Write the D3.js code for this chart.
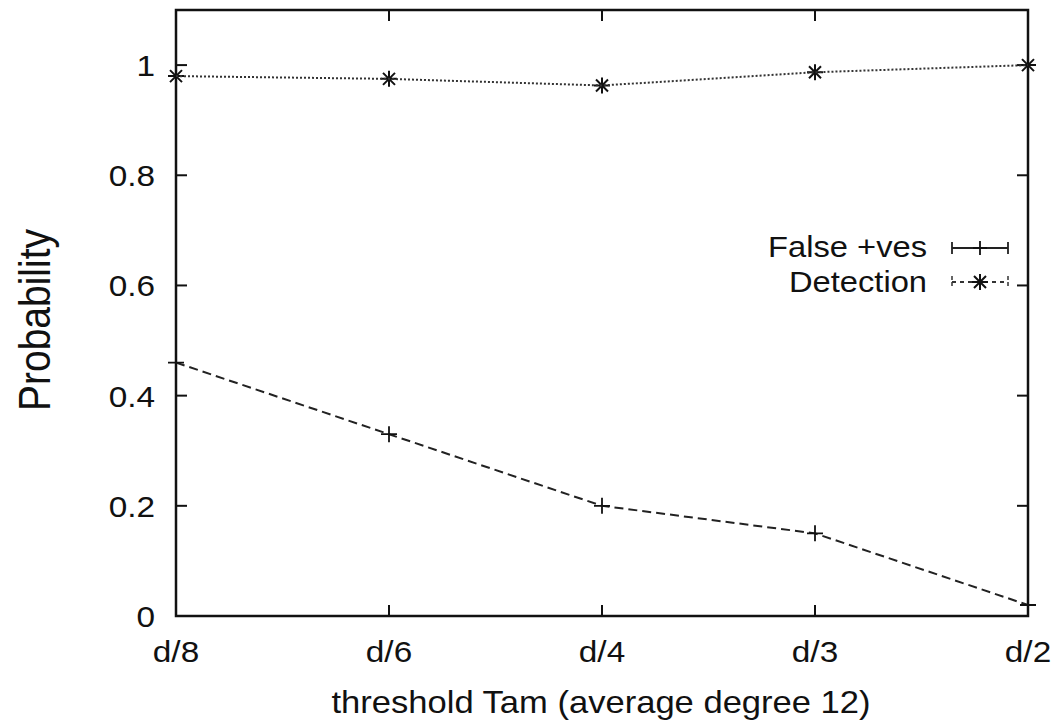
<!DOCTYPE html>
<html>
<head>
<meta charset="utf-8">
<script src="https://cdn.jsdelivr.net/npm/d3@7"></script>
<style>
  body { margin: 0; background: #fff; }
  text { font-family: "Liberation Sans", Arial, sans-serif; fill: #111; }
  .frame { fill: none; stroke: #111; stroke-width: 2.5; }
  .tick-line { stroke: #111; stroke-width: 2; }
</style>
</head>
<body>
<div id="chart"></div>
<script>
// threshold categories and the two measured series
var thresholds = ["d/8", "d/6", "d/4", "d/3", "d/2"];
var falsePositives = [0.46, 0.33, 0.20, 0.15, 0.02];
var detection = [0.98, 0.975, 0.963, 0.987, 1.0];
var yTicks = [0, 0.2, 0.4, 0.6, 0.8, 1];

var W = 1056, H = 721;
var plotL = 176, plotR = 1028, plotT = 10, plotB = 616;

var svg = d3.select("#chart").append("svg")
  .attr("width", W).attr("height", H);

var x = d3.scalePoint().domain(thresholds).range([plotL, plotR]);
var y = d3.scaleLinear().domain([0, 1.1]).range([plotB, plotT]);

// the source image is a bit wider than tall, so text is stretched sideways
function label(str, tx, ty, size, sx, anchor) {
  return svg.append("g")
    .attr("transform", "translate(" + tx + "," + ty + ") scale(" + sx + ",1)")
    .append("text").text(str)
    .attr("text-anchor", anchor)
    .style("font-size", size + "px");
}

// frame
svg.append("rect").attr("class", "frame")
  .attr("x", plotL).attr("y", plotT)
  .attr("width", plotR - plotL).attr("height", plotB - plotT);

// y ticks (gnuplot mirrors them on the right)
var tl = 11;
yTicks.forEach(function(v){
  var yy = y(v);
  svg.append("line").attr("class", "tick-line")
    .attr("x1", plotL).attr("x2", plotL + tl).attr("y1", yy).attr("y2", yy);
  svg.append("line").attr("class", "tick-line")
    .attr("x1", plotR).attr("x2", plotR - tl).attr("y1", yy).attr("y2", yy);
  label(d3.format("")(v), 155, yy + 11, 29, 1.15, "end");
});

// x ticks, bottom and top
thresholds.forEach(function(t){
  var xx = x(t);
  svg.append("line").attr("class", "tick-line")
    .attr("x1", xx).attr("x2", xx).attr("y1", plotB).attr("y2", plotB - tl);
  svg.append("line").attr("class", "tick-line")
    .attr("x1", xx).attr("x2", xx).attr("y1", plotT).attr("y2", plotT + tl);
  label(t, xx, 662, 29, 1.15, "middle");
});

// axis titles
label("threshold Tam (average degree 12)", 601, 713, 32, 1.08, "middle");

svg.append("text").text("Probability")
  .attr("transform", "translate(50,320) rotate(-90) scale(1,1.12)")
  .attr("text-anchor", "middle").style("font-size", "39px");

var line = d3.line()
  .x(function(d, i){ return x(thresholds[i]); })
  .y(function(d){ return y(d); });

// false positives: dashed with plus markers
svg.append("path").datum(falsePositives)
  .attr("d", line)
  .attr("fill", "none").attr("stroke", "#222").attr("stroke-width", 2)
  .attr("stroke-dasharray", "9,5");

function plus(g, cx, cy, s) {
  g.append("path")
    .attr("d", "M" + (cx - s) + "," + cy + "H" + (cx + s) + "M" + cx + "," + (cy - s) + "V" + (cy + s))
    .attr("stroke", "#111").attr("stroke-width", 1.8).attr("fill", "none");
}
function star(g, cx, cy, s) {
  var d = s * 0.75;
  g.append("path")
    .attr("d", "M" + (cx - s) + "," + cy + "H" + (cx + s) +
               "M" + cx + "," + (cy - s) + "V" + (cy + s) +
               "M" + (cx - d) + "," + (cy - d) + "L" + (cx + d) + "," + (cy + d) +
               "M" + (cx - d) + "," + (cy + d) + "L" + (cx + d) + "," + (cy - d))
    .attr("stroke", "#111").attr("stroke-width", 2).attr("fill", "none");
}

var marks = svg.append("g");
falsePositives.forEach(function(v, i){ plus(marks, x(thresholds[i]), y(v), 8); });

// detection: dotted with star markers
svg.append("path").datum(detection)
  .attr("d", line)
  .attr("fill", "none").attr("stroke", "#333").attr("stroke-width", 2)
  .attr("stroke-dasharray", "2,2");
detection.forEach(function(v, i){ star(marks, x(thresholds[i]), y(v), 8); });

// legend
var lx1 = 952, lx2 = 1008;
label("False +ves", 927, 257, 30, 1.09, "end");
label("Detection", 927, 292, 30, 1.09, "end");

var lg = svg.append("g");
lg.append("path")
  .attr("d", "M" + lx1 + ",248H" + lx2 + "M" + lx1 + ",242V254M" + lx2 + ",242V254")
  .attr("stroke", "#222").attr("stroke-width", 1.8).attr("fill", "none");
plus(lg, (lx1 + lx2) / 2, 248, 7);

lg.append("path")
  .attr("d", "M" + lx1 + ",282H" + lx2)
  .attr("stroke", "#333").attr("stroke-width", 1.8).attr("fill", "none")
  .attr("stroke-dasharray", "4,4");
lg.append("path")
  .attr("d", "M" + lx1 + ",276V288M" + lx2 + ",276V288")
  .attr("stroke", "#333").attr("stroke-width", 1.5).attr("fill", "none")
  .attr("stroke-dasharray", "4,2");
star(lg, (lx1 + lx2) / 2, 282, 8);
</script>
</body>
</html>
